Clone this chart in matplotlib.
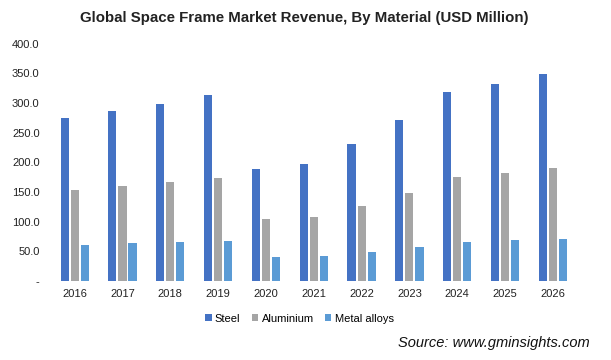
import matplotlib
matplotlib.use("Agg")
import matplotlib.pyplot as plt
import numpy as np

years = ["2016", "2017", "2018", "2019", "2020", "2021", "2022", "2023", "2024", "2025", "2026"]
steel = [274, 286, 298, 313, 189, 197, 231, 271, 318, 332, 348]
aluminium = [153, 160, 167, 173, 104, 108, 126, 148, 175, 182, 190]
metal_alloys = [61, 64, 66, 67, 40, 42, 49, 57, 66, 69, 71]
yticks = [0, 50, 100, 150, 200, 250, 300, 350, 400]

plt.rcParams['font.family'] = ['Liberation Sans', 'DejaVu Sans']

fig = plt.figure(figsize=(6.11, 3.6), dpi=100)
ax = fig.add_axes([0.083, 0.219, 0.861, 0.660])

x = np.arange(len(years))
w = 0.17
step = 0.21
ax.bar(x - step, steel, w, color="#4472C4", label="Steel")
ax.bar(x, aluminium, w, color="#A5A5A5", label="Aluminium")
ax.bar(x + step, metal_alloys, w, color="#5B9BD5", label="Metal alloys")

ax.set_xlim(-0.5, len(years) - 0.5)
ax.set_ylim(0, 400)
ax.set_yticks(yticks)
ax.set_yticklabels(["-" if v == 0 else f"{v:.1f}" for v in yticks], fontsize=8, color="#222222")
ax.set_xticks(x)
ax.set_xticklabels(years, fontsize=8, color="#222222")
ax.tick_params(axis="both", length=0, pad=6)
ax.tick_params(axis="y", pad=8)
for s in ax.spines.values():
    s.set_visible(False)

fig.text(0.498, 0.95, "Global Space Frame Market Revenue, By Material (USD Million)",
         ha="center", va="center", fontsize=10.8, fontweight="bold", color="#222222")

leg = fig.legend(loc="center", bbox_to_anchor=(0.49, 0.115), ncol=3, frameon=False,
                 fontsize=8, handlelength=0.6, handleheight=0.6, handletextpad=0.3,
                 columnspacing=1.0)

fig.text(0.965, 0.047, "Source: www.gminsights.com", ha="right", va="center",
         fontsize=10.5, style="italic", color="#111111")

fig.savefig("out.png", dpi=100)
